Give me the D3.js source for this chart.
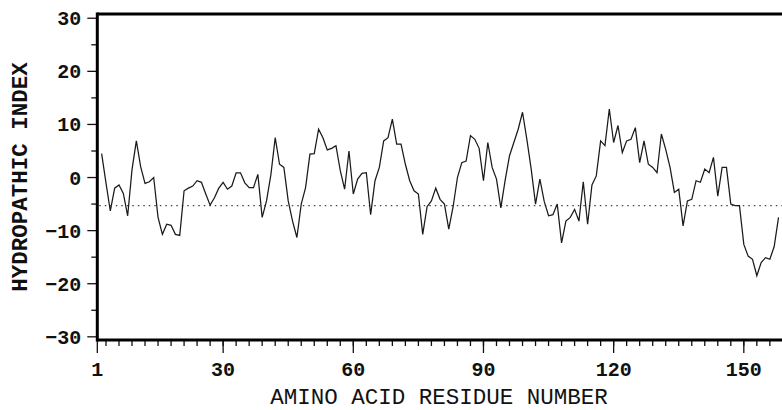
<!DOCTYPE html>
<html>
<head>
    <meta charset="utf-8">
    <title>Hydropathy plot</title>
    <style type="text/css">
        body {
            margin: 0;
            background-color: #fff;
        }

        text {
            font-family: "Liberation Mono", "DejaVu Sans Mono", monospace;
            fill: #111;
        }

        .tick-label {
            font-size: 20px;
            font-weight: bold;
        }

        .axis-title {
            font-size: 22.5px;
        }

        .frame {
            stroke: #000;
            stroke-width: 3;
        }

        .tick {
            stroke: #111;
            stroke-width: 1.3;
        }

        .profile {
            fill: none;
            stroke: #1a1a1a;
            stroke-width: 1.25;
        }

        .midline {
            stroke: #444;
            stroke-width: 1.3;
            stroke-dasharray: 1.5, 4;
        }
    </style>
</head>
<body>
<script src="https://cdn.jsdelivr.net/npm/d3@7"></script>
<script type="text/javascript">
    // residue numbers of the profile (first point = residue 2)
    var firstResidue = 2;

    // hydropathic index, one value per residue 2..158
    var hydropathy = [
        4.5, -1.0, -6.3, -2.0, -1.4, -3.0, -7.2, 1.5, 6.9, 2.0,          // 2-11
        -1.1, -0.8, 0.0, -7.5, -10.7, -8.8, -9.0, -10.7, -10.9, -2.5,     // 12-21
        -2.0, -1.6, -0.6, -0.9, -3.1, -5.2, -3.8, -2.0, -0.9, -2.2,       // 22-31
        -1.6, 0.9, 0.9, -1.0, -1.9, -1.9, 0.6, -7.5, -4.4, 0.5,           // 32-41
        7.5, 2.5, 1.9, -4.4, -8.2, -11.3, -5.0, -1.9, 4.4, 4.5,           // 42-51
        9.1, 7.5, 5.2, 5.5, 6.0, 1.3, -2.2, 5.0, -3.1, -0.3,              // 52-61
        0.8, 0.9, -7.0, -0.6, 1.9, 6.9, 7.5, 11.0, 6.3, 6.3,              // 62-71
        2.5, -0.6, -2.5, -3.1, -10.7, -5.5, -4.4, -2.0, -4.1, -5.0,       // 72-81
        -9.7, -5.5, 0.0, 2.8, 3.1, 7.9, 7.2, 5.5, -0.6, 6.6,              // 82-91
        1.9, -0.3, -5.7, -0.5, 4.1, 6.6, 9.1, 12.3, 7.2, 1.6,             // 92-101
        -5.0, -0.3, -4.5, -7.2, -7.0, -5.0, -12.3, -8.2, -7.5, -6.0,      // 102-111
        -8.2, -0.8, -8.8, -1.4, 0.3, 6.9, 6.0, 12.9, 6.6, 9.8,            // 112-121
        4.7, 6.9, 7.2, 9.4, 2.8, 6.9, 2.5, 1.9, 0.9, 8.2,                 // 122-131
        5.3, 1.9, -2.8, -2.2, -9.1, -4.4, -4.1, -0.6, -0.9, 1.6,          // 132-141
        0.9, 3.8, -3.5, 1.9, 1.9, -5.0, -5.3, -5.3, -12.6, -14.8,         // 142-151
        -15.4, -18.5, -16.0, -15.1, -15.4, -13.0, -7.5                    // 152-158
    ];

    // mean level drawn as the dotted line
    var meanLevel = -5.3;

    // tick labels
    var xMajorTicks = [1, 30, 60, 90, 120, 150];
    var xMinorTicks = d3.range(3, 159, 3);
    var yMajorTicks = [30, 20, 10, 0, -10, -20, -30];
    var yMinorTicks = [25, 15, 5, -5, -15, -25];

    var width = 782, height = 410;
    var plotLeft = 97.3, plotRight = 782, plotTop = 14, plotBottom = 340;

    var data = hydropathy.map(function (d, i) {
        return {residue: firstResidue + i, value: d};
    });

    var x = d3.scaleLinear().domain([1, 158.8]).range([plotLeft, plotRight]);
    var y = d3.scaleLinear().domain([-30.6, 30.8]).range([plotBottom, plotTop]);

    var svg = d3.select("body")
        .append("svg")
        .attr("width", width)
        .attr("height", height);

    // dotted mean line
    svg.append("line")
        .attr("class", "midline")
        .attr("x1", plotLeft + 2)
        .attr("x2", plotRight)
        .attr("y1", y(meanLevel))
        .attr("y2", y(meanLevel));

    // hydropathy profile
    var line = d3.line()
        .x(function (d) { return x(d.residue); })
        .y(function (d) { return y(d.value); });

    svg.append("path")
        .datum(data)
        .attr("class", "profile")
        .attr("d", line);

    // y ticks
    svg.selectAll("line.ymajor")
        .data(yMajorTicks)
        .enter()
        .append("line")
        .attr("class", "tick ymajor")
        .attr("x1", plotLeft - 10)
        .attr("x2", plotLeft)
        .attr("y1", function (d) { return y(d); })
        .attr("y2", function (d) { return y(d); });

    svg.selectAll("line.yminor")
        .data(yMinorTicks)
        .enter()
        .append("line")
        .attr("class", "tick yminor")
        .attr("x1", plotLeft - 6)
        .attr("x2", plotLeft)
        .attr("y1", function (d) { return y(d); })
        .attr("y2", function (d) { return y(d); });

    svg.selectAll("text.ylabel")
        .data(yMajorTicks)
        .enter()
        .append("text")
        .attr("class", "tick-label ylabel")
        .attr("x", plotLeft - 16)
        .attr("y", function (d) { return y(d); })
        .attr("dy", "0.35em")
        .attr("text-anchor", "end")
        .text(function (d) { return d < 0 ? "\u2212" + Math.abs(d) : d; });

    // x ticks
    svg.selectAll("line.xminor")
        .data(xMinorTicks)
        .enter()
        .append("line")
        .attr("class", "tick xminor")
        .attr("x1", function (d) { return x(d); })
        .attr("x2", function (d) { return x(d); })
        .attr("y1", plotBottom)
        .attr("y2", plotBottom + 6);

    svg.selectAll("line.xmajor")
        .data(xMajorTicks)
        .enter()
        .append("line")
        .attr("class", "tick xmajor")
        .attr("x1", function (d) { return x(d); })
        .attr("x2", function (d) { return x(d); })
        .attr("y1", plotBottom)
        .attr("y2", plotBottom + 13);

    svg.selectAll("text.xlabel")
        .data(xMajorTicks)
        .enter()
        .append("text")
        .attr("class", "tick-label xlabel")
        .attr("x", function (d) { return x(d); })
        .attr("y", 376)
        .attr("text-anchor", "middle")
        .text(function (d) { return d; });

    // frame: top, left, bottom
    svg.append("line").attr("class", "frame")
        .attr("x1", plotLeft).attr("x2", plotRight).attr("y1", plotTop).attr("y2", plotTop);
    svg.append("line").attr("class", "frame")
        .attr("x1", plotLeft).attr("x2", plotLeft).attr("y1", plotTop - 1.5).attr("y2", plotBottom + 1.5);
    svg.append("line").attr("class", "frame")
        .attr("x1", plotLeft).attr("x2", plotRight).attr("y1", plotBottom).attr("y2", plotBottom);

    // axis titles
    svg.append("text")
        .attr("class", "axis-title")
        .attr("x", 439)
        .attr("y", 404)
        .attr("text-anchor", "middle")
        .text("AMINO ACID RESIDUE NUMBER");

    svg.append("text")
        .attr("class", "axis-title")
        .attr("transform", "translate(27,177) rotate(-90)")
        .attr("text-anchor", "middle")
        .style("font-weight", "bold")
        .text("HYDROPATHIC INDEX");
</script>
</body>
</html>
